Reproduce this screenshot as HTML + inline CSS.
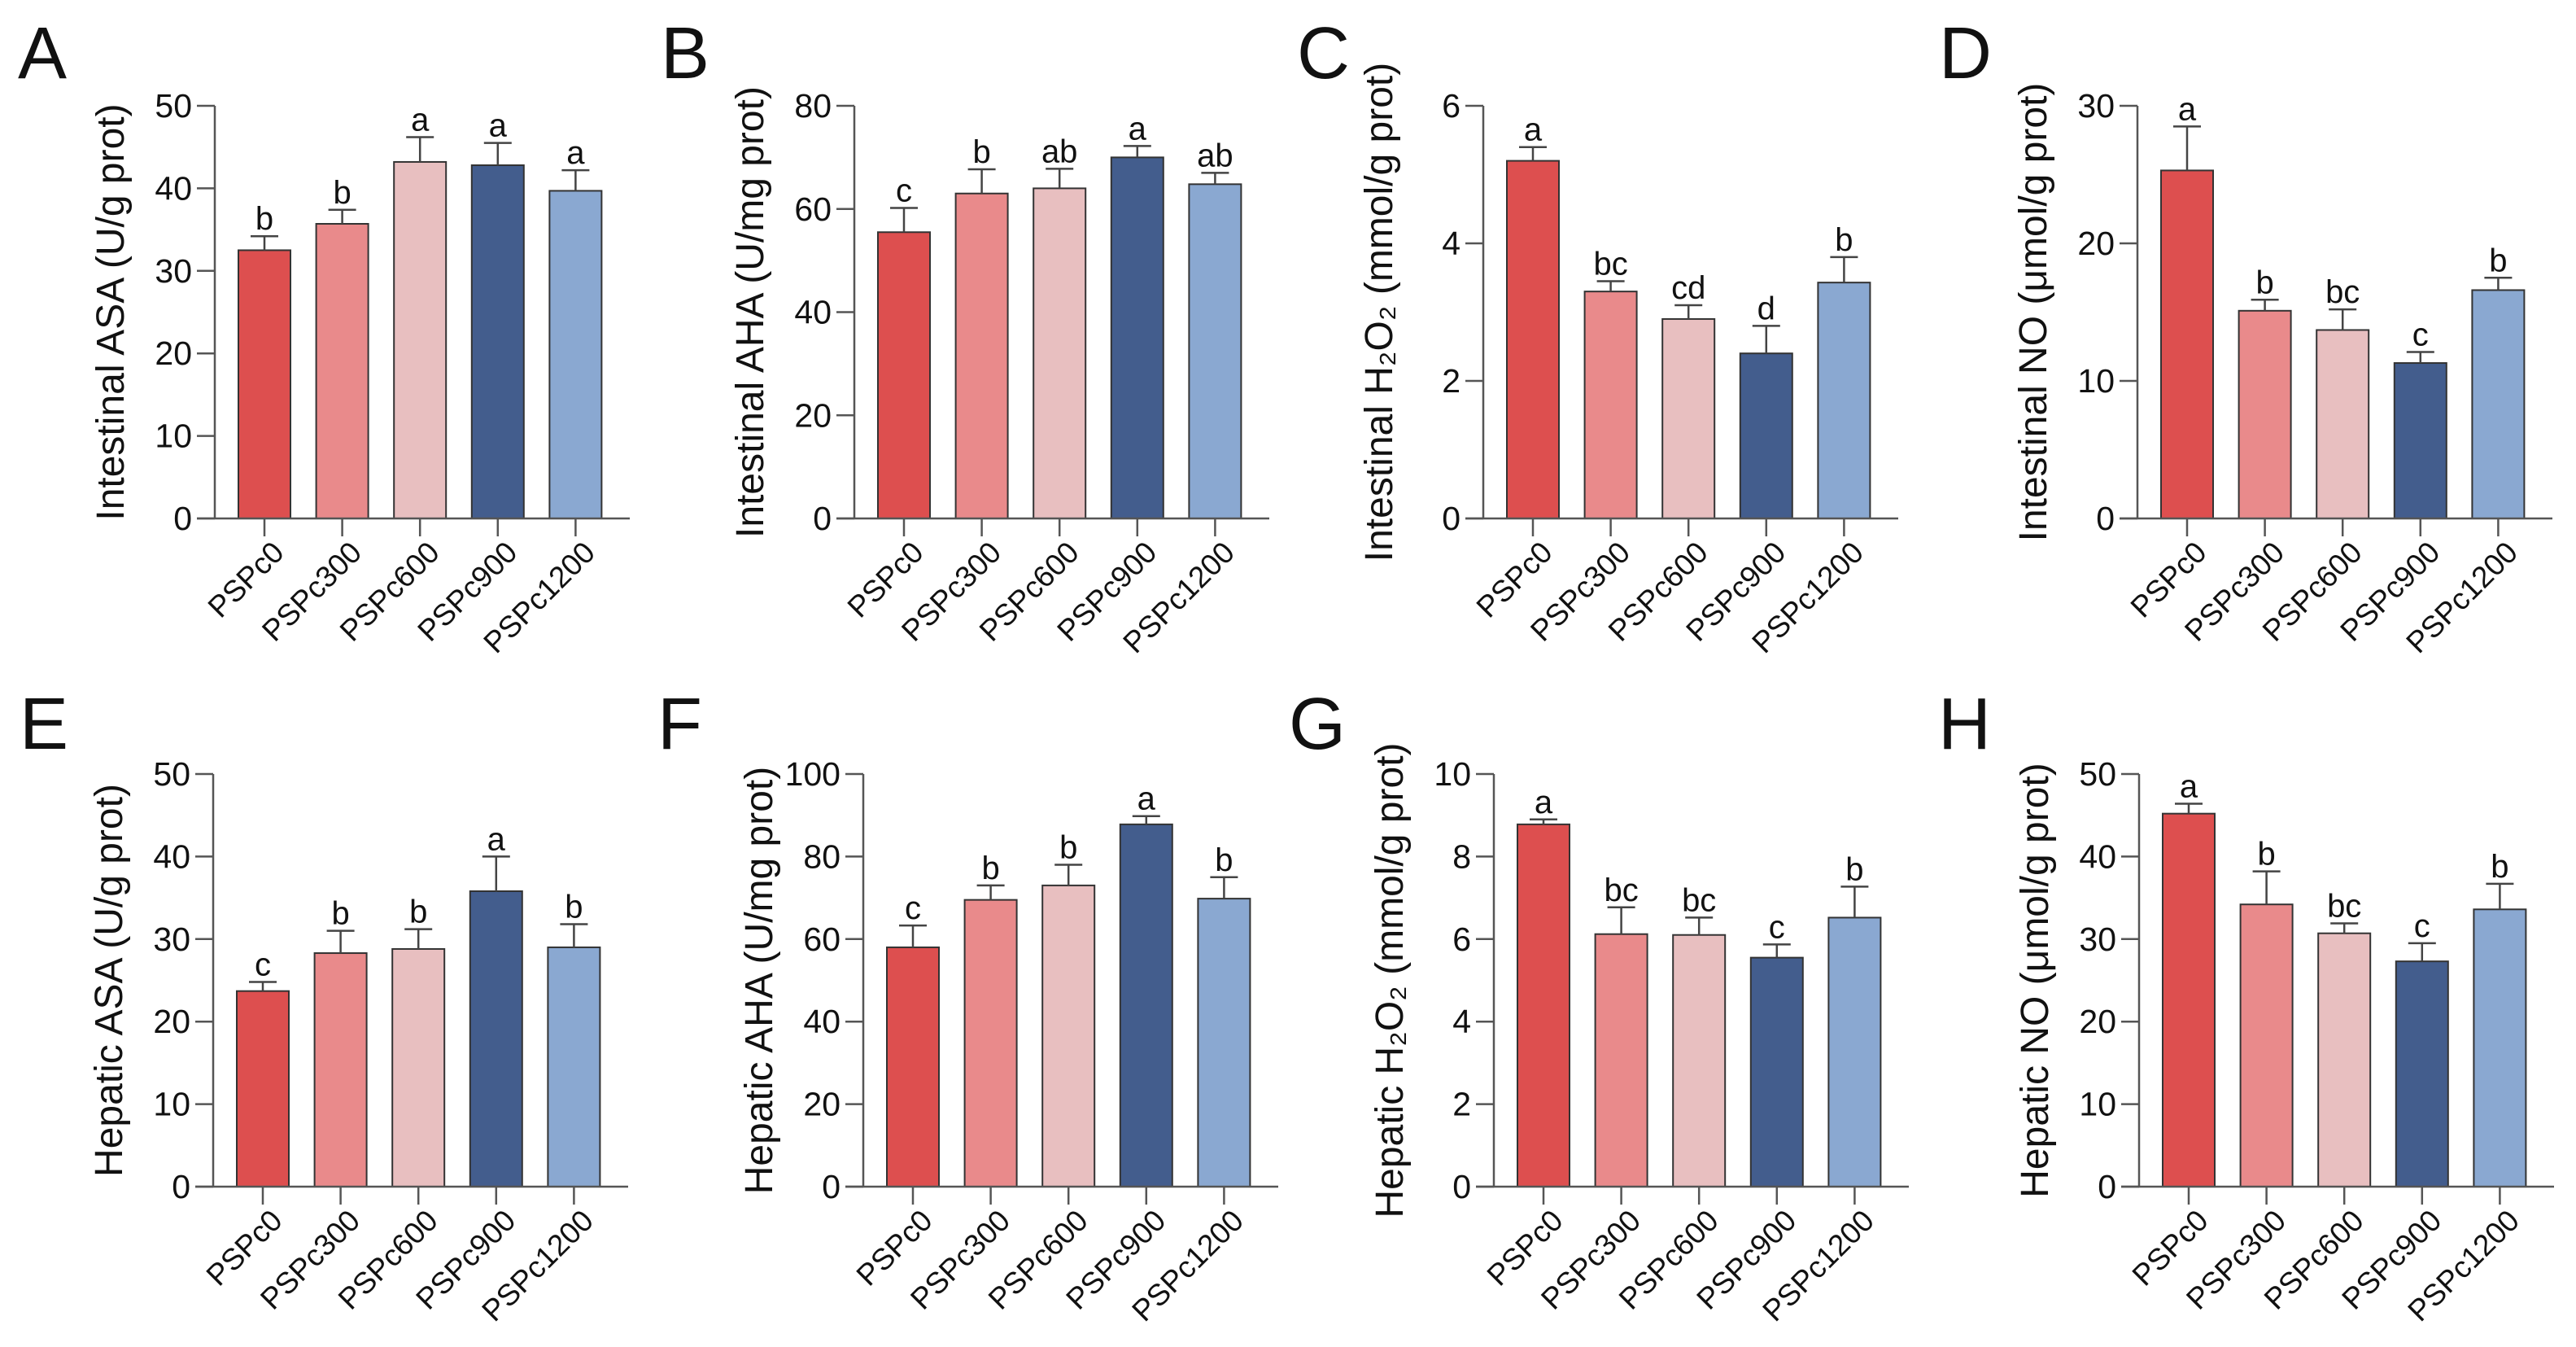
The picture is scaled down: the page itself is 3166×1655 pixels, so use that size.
<!DOCTYPE html>
<html><head><meta charset="utf-8">
<style>
html,body{margin:0;padding:0;background:#fff;}
svg{display:block;font-family:"Liberation Sans",Arial,sans-serif;}
</style></head>
<body>
<svg id="fig" width="3166" height="1655" viewBox="0 0 3166 1655" xmlns="http://www.w3.org/2000/svg"></svg>
<script>
const categories = ["PSPc0","PSPc300","PSPc600","PSPc900","PSPc1200"];
const valsA = [32.5,35.7,43.2,42.8,39.7];
const errA  = [1.7,1.7,3.0,2.7,2.5];
const sigA  = ["b","b","a","a","a"];
const valsB = [55.5,63,64,70,64.8];
const errB  = [4.7,4.7,3.8,2.2,2.2];
const sigB  = ["c","b","ab","a","ab"];
const valsC = [5.2,3.3,2.9,2.4,3.43];
const errC  = [0.2,0.15,0.2,0.4,0.37];
const sigC  = ["a","bc","cd","d","b"];
const valsD = [25.3,15.1,13.7,11.3,16.6];
const errD  = [3.2,0.8,1.5,0.8,0.9];
const sigD  = ["a","b","bc","c","b"];
const valsE = [23.7,28.3,28.8,35.8,29];
const errE  = [1.1,2.7,2.4,4.2,2.8];
const sigE  = ["c","b","b","a","b"];
const valsF = [58,69.5,73,87.8,69.8];
const errF  = [5.3,3.5,5,2,5.2];
const sigF  = ["c","b","b","a","b"];
const valsG = [8.78,6.12,6.1,5.55,6.52];
const errG  = [0.12,0.65,0.42,0.32,0.75];
const sigG  = ["a","bc","bc","c","b"];
const valsH = [45.2,34.2,30.7,27.3,33.6];
const errH  = [1.2,4,1.2,2.2,3.1];
const sigH  = ["a","b","bc","c","b"];
const ticksA = [0,10,20,30,40,50];
const ticksB = [0,20,40,60,80];
const ticksC = [0,2,4,6];
const ticksD = [0,10,20,30];
const ticksE = [0,10,20,30,40,50];
const ticksF = [0,20,40,60,80,100];
const ticksG = [0,2,4,6,8,10];
const ticksH = [0,10,20,30,40,50];

const colors = ["#dd4f4f","#e98a8b","#e8bfc0","#435d8d","#8aa8d1"];
const NS = "http://www.w3.org/2000/svg";
const svg = document.getElementById("fig");

function mk(tag, attrs, parent){
  const e = document.createElementNS(NS, tag);
  for (const k in attrs) e.setAttribute(k, attrs[k]);
  (parent||svg).appendChild(e);
  return e;
}

const panels = [
  {id:"A", ax:264,  top:130, zero:637, lx:22,  ly:96,  title:"Intestinal ASA (U/g prot)", vals:valsA, err:errA, sig:sigA, ticks:ticksA},
  {id:"B", ax:1050, top:130, zero:637, lx:812, ly:96,  title:"Intestinal AHA (U/mg prot)", vals:valsB, err:errB, sig:sigB, ticks:ticksB},
  {id:"C", ax:1823, top:130, zero:637, lx:1594,ly:96,  title:"Intestinal H\u2082O\u2082 (mmol/g prot)", vals:valsC, err:errC, sig:sigC, ticks:ticksC},
  {id:"D", ax:2627, top:130, zero:637, lx:2383,ly:96,  title:"Intestinal NO (\u03bcmol/g prot)", vals:valsD, err:errD, sig:sigD, ticks:ticksD},
  {id:"E", ax:262,  top:951, zero:1458,lx:24,  ly:920, title:"Hepatic ASA (U/g prot)", vals:valsE, err:errE, sig:sigE, ticks:ticksE},
  {id:"F", ax:1061, top:951, zero:1458,lx:808, ly:920, title:"Hepatic AHA (U/mg prot)", vals:valsF, err:errF, sig:sigF, ticks:ticksF},
  {id:"G", ax:1836, top:951, zero:1458,lx:1584,ly:920, title:"Hepatic H\u2082O\u2082 (mmol/g prot)", vals:valsG, err:errG, sig:sigG, ticks:ticksG},
  {id:"H", ax:2629, top:951, zero:1458,lx:2382,ly:920, title:"Hepatic NO (\u03bcmol/g prot)", vals:valsH, err:errH, sig:sigH, ticks:ticksH}
];

panels.forEach(p => {
  const g = mk("g", {});
  
  
  const ymax = p.ticks[p.ticks.length-1];
  const y = v => p.zero - (v / ymax) * (p.zero - p.top);
  const x = i => p.ax + 61 + i * 95.6;
  const bw = 64;

  const letter = mk("text", {x:p.lx, y:p.ly, "font-size":90, fill:"#111"}, g);
  letter.textContent = p.id;
  
  

  p.vals.forEach((v,i) => {
    const bar = mk("rect", {x:x(i)-bw/2, y:y(v), width:bw, height:p.zero - y(v), fill:colors[i], stroke:"#333", "stroke-width":2}, g);
    
    
    const ye = y(v + p.err[i]);
    const eb = mk("path", {d:`M${x(i)} ${y(v)} V${ye} M${x(i)-17} ${ye} H${x(i)+17}`, stroke:"#444", "stroke-width":2.5, fill:"none"}, g);
    
    
    const s = mk("text", {x:x(i), y:ye - 8, "font-size":40, "text-anchor":"middle", fill:"#111"}, g);
    s.textContent = p.sig[i];
    
    
    const xt = mk("line", {x1:x(i), y1:p.zero, x2:x(i), y2:p.zero+22, stroke:"#555", "stroke-width":2.5}, g);
    
    
    const lx = x(i) + 26, ly = p.zero + 44;
    const cl = mk("text", {x:lx, y:ly, "font-size":37, "text-anchor":"end", transform:`rotate(-45 ${lx} ${ly})`, fill:"#111"}, g);
    cl.textContent = categories[i];
    
    
  });

  const yaxis = mk("line", {x1:p.ax, y1:p.top, x2:p.ax, y2:p.zero, stroke:"#555", "stroke-width":2.5}, g);
  
  
  const xaxis = mk("line", {x1:p.ax - 22, y1:p.zero, x2:p.ax + 510, y2:p.zero, stroke:"#555", "stroke-width":2.5}, g);
  
  
  p.ticks.forEach(t => {
    const tk = mk("line", {x1:p.ax-22, y1:y(t), x2:p.ax, y2:y(t), stroke:"#555", "stroke-width":2.5}, g);
    
    
    const tl = mk("text", {x:p.ax-28, y:y(t)+14, "font-size":41, "text-anchor":"end", fill:"#111"}, g);
    tl.textContent = t;
    
    
  });
  const cx = p.ax - 112, cy = (p.top + p.zero)/2;
  const yt = mk("text", {x:cx, y:cy, "font-size":48, "text-anchor":"middle", transform:`rotate(-90 ${cx} ${cy})`, fill:"#111"}, g);
  yt.textContent = p.title;
  
  
});
</script>
</body></html>
